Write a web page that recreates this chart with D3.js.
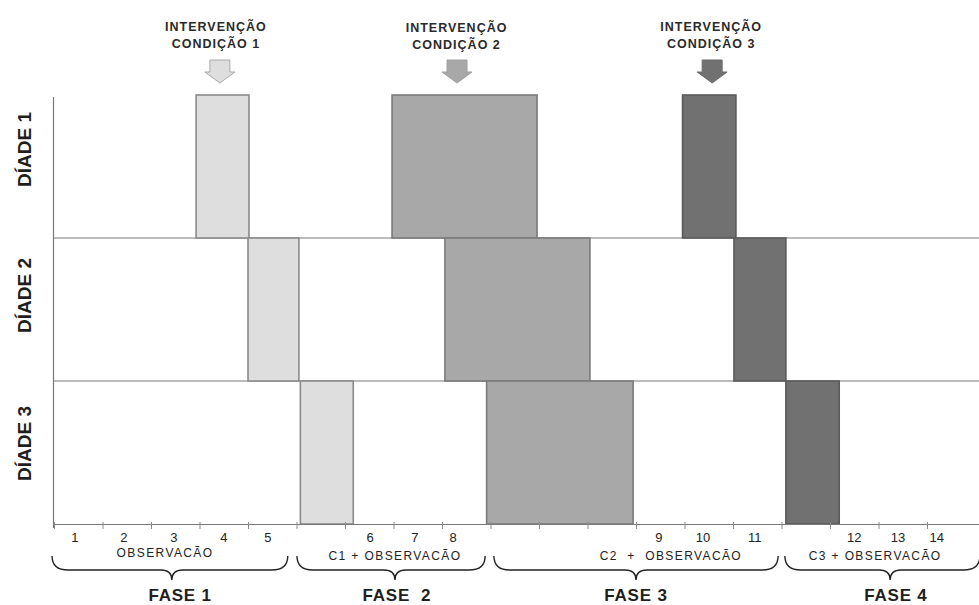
<!DOCTYPE html>
<html>
<head>
<meta charset="utf-8">
<script src="https://cdn.jsdelivr.net/npm/d3@7"></script>
<style>
  html, body { margin: 0; padding: 0; background: #fff; }
  svg { display: block; font-family: "Liberation Sans", Arial, sans-serif; }
</style>
</head>
<body>
<svg id="chart" width="979" height="605"></svg>
<script>
// ---------- data ----------
const dyads = ["DÍADE 1", "DÍADE 2", "DÍADE 3"];
const conditions = ["C1", "C2", "C3"];
// start / end of each condition block (session units), per dyad
const blockStart = [
  [2.93, 6.97, 12.96],
  [4.00, 8.06, 14.02],
  [5.08, 8.92, 15.09]
];
const blockEnd = [
  [4.02, 9.96, 14.06],
  [5.05, 11.05, 15.09],
  [6.17, 11.94, 16.19]
];
const sessionLabels = ["1","2","3","4","5","6","7","8","9","10","11","12","13","14"];
const sessionLabelPos = [0.43,1.44,2.47,3.5,4.41,6.52,7.44,8.23,12.47,13.38,14.45,16.5,17.4,18.2];
const tickValues = d3.range(0, 19);

const interventionLine1 = ["INTERVENÇÃO", "INTERVENÇÃO", "INTERVENÇÃO"];
const interventionLine2 = ["CONDIÇÃO 1", "CONDIÇÃO 2", "CONDIÇÃO 3"];
const interventionPos = [3.34, 8.3, 13.55];
const arrowPos = [3.42, 8.31, 13.57];

const phases = ["FASE 1", "FASE  2", "FASE 3", "FASE 4"];
const phaseSub = ["OBSERVACÃO", "C1 + OBSERVACÃO", "C2  +  OBSERVACÃO", "C3 + OBSERVACÃO"];
const phaseStart = [-0.04, 5.01, 9.07, 15.07];
const phaseEnd = [4.82, 8.89, 14.93, 19.09];
const phaseTip = [2.43, 7.03, 12.0, 17.24];
const phaseSubPos = [2.29, 7.03, 12.72, 16.93];
const phaseLabelPos = [2.6, 7.07, 12.0, 17.36];

// ---------- styles ----------
const fills = { C1: "#dedede", C2: "#a8a8a8", C3: "#717171" };
const strokes = { C1: "#8a8a8a", C2: "#7a7a7a", C3: "#5a5a5a" };
const arrowStroke = { C1: "#a8a8a8", C2: "#a0a0a0", C3: "#6a6a6a" };

const svg = d3.select("#chart");
const x = d3.scaleLinear().domain([0, (979 - 54) / 48.5]).range([54, 979]);
const y = d3.scaleBand().domain(dyads).range([95, 524]).padding(0);

// row separator lines
svg.append("g").selectAll("line")
  .data(dyads.slice(1))
  .join("line")
  .attr("x1", 53).attr("x2", 979)
  .attr("y1", d => y(d)).attr("y2", d => y(d))
  .attr("stroke", "#7a7a7a").attr("stroke-width", 1.2);

// blocks
const blocks = [];
dyads.forEach((dy, i) => conditions.forEach((c, j) => {
  blocks.push({ dyad: dy, cond: c, s: blockStart[i][j], e: blockEnd[i][j] });
}));
svg.append("g").selectAll("rect")
  .data(blocks)
  .join("rect")
  .attr("x", d => x(d.s))
  .attr("y", d => y(d.dyad))
  .attr("width", d => x(d.e) - x(d.s))
  .attr("height", y.bandwidth())
  .attr("fill", d => fills[d.cond])
  .attr("stroke", d => strokes[d.cond])
  .attr("stroke-width", 1.6);

// y axis line
svg.append("line")
  .attr("x1", 53.5).attr("x2", 53.5)
  .attr("y1", 97).attr("y2", 528)
  .attr("stroke", "#7a7a7a").attr("stroke-width", 1.2);

// bottom axis
const xAxis = d3.axisBottom(x).tickValues(tickValues).tickFormat("").tickSizeOuter(0).tickSizeInner(5);
const gx = svg.append("g").attr("transform", "translate(0,524)").call(xAxis);
gx.select(".domain").attr("stroke", "#7a7a7a").attr("stroke-width", 1.2);
gx.selectAll(".tick line").attr("stroke", "#8a8a8a").attr("y1", -2);

// session labels
svg.append("g").selectAll("text")
  .data(sessionLabels)
  .join("text")
  .attr("x", (d, i) => x(sessionLabelPos[i]))
  .attr("y", 542)
  .attr("text-anchor", "middle")
  .attr("font-size", 13)
  .attr("fill", "#222")
  .text(d => d);

// dyad labels
svg.append("g").selectAll("text")
  .data(dyads)
  .join("text")
  .attr("transform", (d, i) => `translate(31,${y(d) + y.bandwidth() / 2 - [17, 14, 9][i]}) rotate(-90)`)
  .attr("text-anchor", "middle")
  .attr("font-size", 19)
  .attr("font-weight", "bold")
  .attr("fill", "#1e1e1e")
  .text(d => d);

// intervention labels
const gi = svg.append("g");
conditions.forEach((c, i) => {
  const t = gi.append("text")
    .attr("text-anchor", "middle")
    .attr("font-size", 12.5)
    .attr("font-weight", "bold")
    .attr("letter-spacing", 1)
    .attr("fill", "#2a2a2a");
  t.append("tspan").attr("x", x(interventionPos[i])).attr("y", 31 + (i === 1 ? 1 : 0)).text(interventionLine1[i]);
  t.append("tspan").attr("x", x(interventionPos[i])).attr("y", 48 + (i === 1 ? 1 : 0)).text(interventionLine2[i]);
});

// arrows
function arrowPath(cx) {
  const top = 60, mid = 72, tip = 83, sw = 10, hw = 15;
  return `M${cx - sw},${top} L${cx + sw},${top} L${cx + sw},${mid} L${cx + hw},${mid} L${cx},${tip} L${cx - hw},${mid} L${cx - sw},${mid} Z`;
}
svg.append("g").selectAll("path")
  .data(conditions)
  .join("path")
  .attr("d", (d, i) => arrowPath(x(arrowPos[i])))
  .attr("fill", d => fills[d])
  .attr("stroke", d => arrowStroke[d])
  .attr("stroke-width", 1);

// phase braces
function bracePath(x0, x1, xm) {
  const yEnd = 556, yLine = 570, yTip = 580, r = 16, rt = 11;
  return `M${x0},${yEnd} Q${x0},${yLine} ${x0 + r},${yLine} L${xm - rt},${yLine} Q${xm},${yLine} ${xm},${yTip} ` +
         `Q${xm},${yLine} ${xm + rt},${yLine} L${x1 - r},${yLine} Q${x1},${yLine} ${x1},${yEnd}`;
}
svg.append("g").selectAll("path")
  .data(phases)
  .join("path")
  .attr("d", (d, i) => bracePath(x(phaseStart[i]), x(phaseEnd[i]), x(phaseTip[i])))
  .attr("fill", "none")
  .attr("stroke", "#222")
  .attr("stroke-width", 1.4);

// phase sub labels
svg.append("g").selectAll("text")
  .data(phaseSub)
  .join("text")
  .attr("x", (d, i) => x(phaseSubPos[i]))
  .attr("y", (d, i) => i === 0 ? 557 : 560)
  .attr("text-anchor", "middle")
  .attr("font-size", 12)
  .attr("letter-spacing", 1.4)
  .attr("fill", "#222")
  .style("white-space", "pre")
  .text(d => d);

// phase labels
svg.append("g").selectAll("text")
  .data(phases)
  .join("text")
  .attr("x", (d, i) => x(phaseLabelPos[i]))
  .attr("y", 601)
  .attr("text-anchor", "middle")
  .attr("font-size", 17)
  .attr("font-weight", "bold")
  .attr("letter-spacing", 0.8)
  .attr("fill", "#1e1e1e")
  .style("white-space", "pre")
  .text(d => d);
</script>
</body>
</html>
